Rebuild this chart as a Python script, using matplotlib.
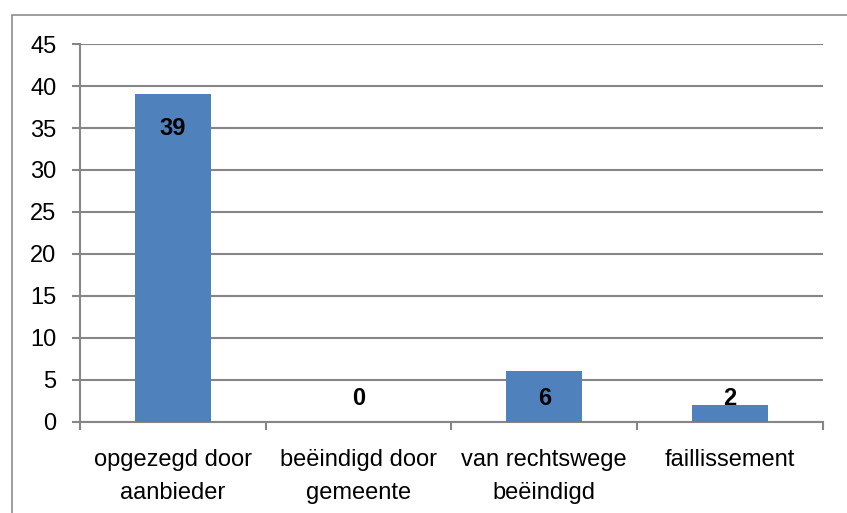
import matplotlib
matplotlib.use("Agg")
import matplotlib.pyplot as plt
from matplotlib.patches import Rectangle

categories = ["opgezegd door\naanbieder", "beëindigd door\ngemeente",
              "van rechtswege\nbeëindigd", "faillissement"]
values = [39, 0, 6, 2]
yticks = [0, 5, 10, 15, 20, 25, 30, 35, 40, 45]

BAR = "#4F81BD"
GRID = "#868686"

plt.rcParams['font.family'] = ['Liberation Sans', 'DejaVu Sans']

fig = plt.figure(figsize=(8.47, 5.13), dpi=100)
# outer chart frame, only left and top edges fall inside the picture
fig.patches.append(Rectangle((0.0142, -0.05), 1.2, 0.05 + 0.971, transform=fig.transFigure,
                             fill=False, edgecolor="#8c8c8c", linewidth=1.2))
ax = fig.add_axes([0.0945, 0.178, 0.877, 0.736])

x = list(range(len(categories)))
ax.bar(x, values, width=0.41, color=BAR, zorder=3)
for xi, v in zip(x, values):
    ax.text(xi, max(v - 4, 2.8), str(v), ha='center', va='center',
            fontsize=17, fontweight='bold', color='black', zorder=4)

ax.set_xlim(-0.5, len(categories) - 0.5)
ax.set_ylim(0, 45)
ax.set_yticks(yticks)
ax.yaxis.grid(True, color=GRID, linewidth=1.5, zorder=0)
ax.tick_params(axis='y', length=6, width=1.5, color=GRID, pad=11, labelsize=17)

# ticks between categories, labels centred under bars
ax.set_xticks([i + 0.5 for i in range(-1, len(categories))])
ax.set_xticklabels([])
ax.set_xticks(x, minor=True)
ax.set_xticklabels(categories, minor=True, fontsize=17, linespacing=1.6)
ax.tick_params(axis='x', which='major', length=6, width=1.5, color=GRID)
ax.tick_params(axis='x', which='minor', length=0, pad=20)

for s in ['top', 'right']:
    ax.spines[s].set_visible(False)
for s in ['left', 'bottom']:
    ax.spines[s].set_color(GRID)
    ax.spines[s].set_linewidth(1.5)

fig.savefig("out.png", dpi=100)
